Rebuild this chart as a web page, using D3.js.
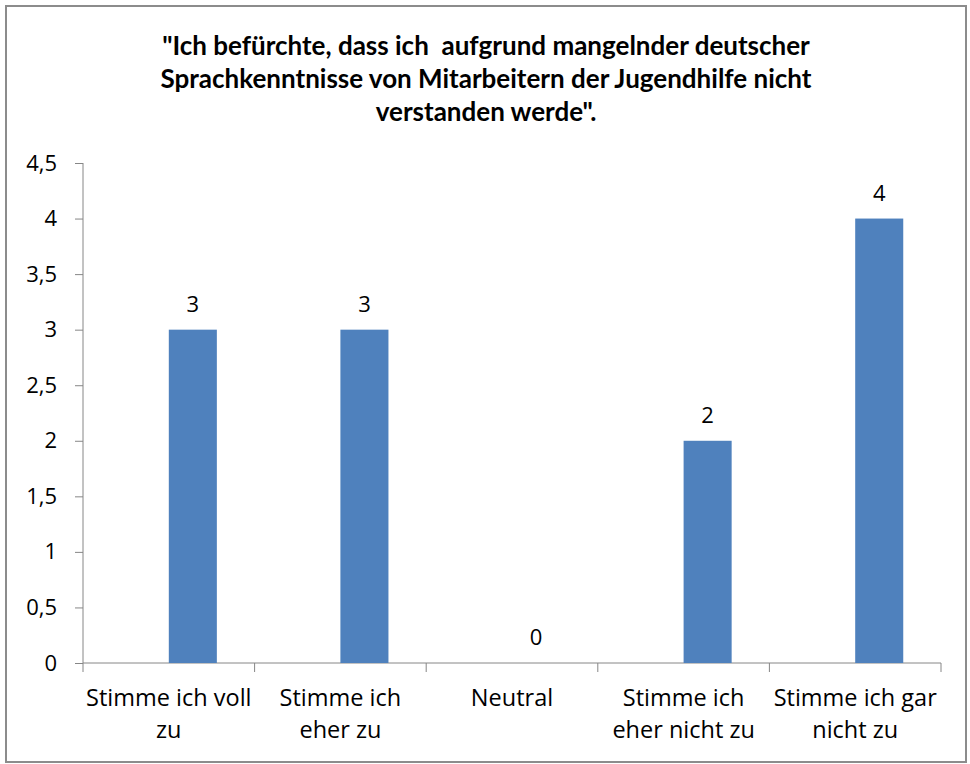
<!DOCTYPE html>
<html>
<head>
<meta charset="utf-8">
<script src="https://cdn.jsdelivr.net/npm/d3@7"></script>
<style>
  html, body { margin: 0; padding: 0; background: #fff; }
  svg { display: block; font-family: "Open Sans", Lato, sans-serif; }
</style>
</head>
<body>
<svg id="chart" width="970" height="764"></svg>
<script>
const categories = [
  ["Stimme ich voll", "zu"],
  ["Stimme ich", "eher zu"],
  ["Neutral"],
  ["Stimme ich", "eher nicht zu"],
  ["Stimme ich gar", "nicht zu"],
];
const values = [3, 3, 0, 2, 4];
const yTicks = [0, 0.5, 1, 1.5, 2, 2.5, 3, 3.5, 4, 4.5];
const titleLines = [
  "\"Ich befürchte, dass ich  aufgrund mangelnder deutscher",
  "Sprachkenntnisse von Mitarbeitern der Jugendhilfe nicht",
  "verstanden werde\".",
];

const BAR_COLOR = "#4f81bd";
const AXIS_COLOR = "#868686";

const svg = d3.select("#chart");
const margin = { top: 163, right: 29, bottom: 101, left: 83 };
const width = 970 - margin.left - margin.right;
const height = 764 - margin.top - margin.bottom;

// outer frame
svg.append("rect")
  .attr("x", 6).attr("y", 6)
  .attr("width", 960).attr("height", 756)
  .attr("fill", "#fff")
  .attr("stroke", "#8c8c8c")
  .attr("stroke-width", 2);

svg.append("g")
  .selectAll("text")
  .data(titleLines)
  .join("text")
  .attr("x", 486)
  .attr("y", (d, i) => 55 + i * 33)
  .attr("text-anchor", "middle")
  .attr("font-family", "Lato, sans-serif")
  .attr("font-weight", "bold")
  .attr("font-size", 26)
  .attr("fill", "#000")
  .style("white-space", "pre")
  .text((d) => d);

const x = d3.scaleBand().domain(d3.range(categories.length)).range([0, width]);
const y = d3.scaleLinear().domain([0, 4.5]).range([height, 0]);
const fmt = (v) => String(v).replace(".", ",");

const g = svg.append("g").attr("transform", `translate(${margin.left},${margin.top})`);

// y axis
const yAxis = g.append("g")
  .call(d3.axisLeft(y).tickValues(yTicks).tickSize(8).tickPadding(8).tickFormat(fmt));
yAxis.select(".domain").attr("stroke", AXIS_COLOR).attr("d", `M0,${height}V0`);
yAxis.selectAll(".tick line").attr("stroke", AXIS_COLOR);
yAxis.selectAll(".tick text")
  .attr("font-size", 22)
  .attr("fill", "#000")
  .attr("font-family", "'Open Sans', sans-serif")
  .attr("dx", -10);

// x axis
const xTickPositions = d3.range(categories.length + 1).map((i) => i * x.step());
const xAxis = g.append("g").attr("transform", `translate(0,${height})`);
xAxis.append("line")
  .attr("x1", 0).attr("x2", width)
  .attr("stroke", AXIS_COLOR);
xAxis.selectAll("line.tick")
  .data(xTickPositions)
  .join("line")
  .attr("class", "tick")
  .attr("x1", (d) => d).attr("x2", (d) => d)
  .attr("y1", 0).attr("y2", 9)
  .attr("stroke", AXIS_COLOR);

xAxis.selectAll("text.cat")
  .data(categories)
  .join("text")
  .attr("class", "cat")
  .attr("text-anchor", "middle")
  .attr("font-size", 23.5)
  .attr("fill", "#000")
  .attr("transform", (d, i) => `translate(${x(i) + x.bandwidth() / 2},0)`)
  .selectAll("tspan")
  .data((d) => d)
  .join("tspan")
  .attr("x", 0)
  .attr("y", (d, i) => 43 + i * 32)
  .text((d) => d);

// bars: drawn in the right half of each category slot
const barW = x.bandwidth() * 0.28;
const barX = (i) => x(i) + x.bandwidth() / 2;

g.selectAll("rect.bar")
  .data(values)
  .join("rect")
  .attr("class", "bar")
  .attr("x", (d, i) => barX(i))
  .attr("y", (d) => y(d))
  .attr("width", barW)
  .attr("height", (d) => height - y(d))
  .attr("fill", BAR_COLOR);

g.selectAll("text.val")
  .data(values)
  .join("text")
  .attr("class", "val")
  .attr("x", (d, i) => barX(i) + barW / 2)
  .attr("y", (d) => y(d) - 18)
  .attr("text-anchor", "middle")
  .attr("font-size", 22)
  .attr("fill", "#000")
  .text((d) => fmt(d));
</script>
</body>
</html>
